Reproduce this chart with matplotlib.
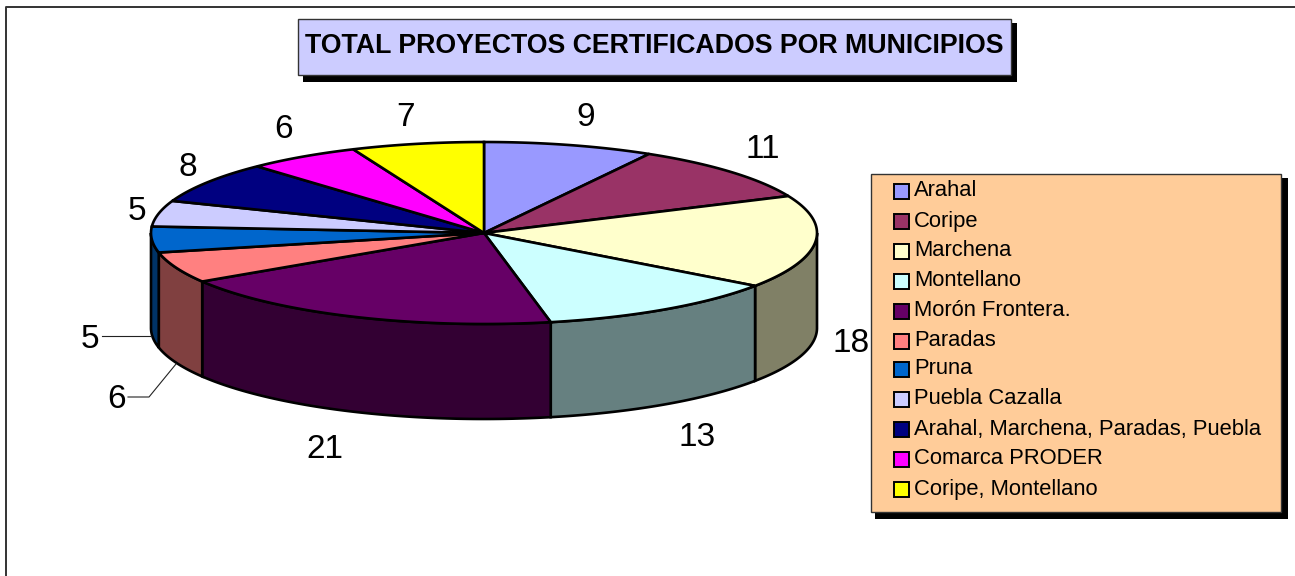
import numpy as np
import matplotlib
matplotlib.use("Agg")
import matplotlib.pyplot as plt
from matplotlib.patches import Polygon, Rectangle

plt.rcParams['font.family'] = ['Liberation Sans', 'DejaVu Sans']

# Chart data
title = 'TOTAL PROYECTOS CERTIFICADOS POR MUNICIPIOS'
municipios = ['Arahal', 'Coripe', 'Marchena', 'Montellano', 'Morón Frontera.', 'Paradas', 'Pruna',
              'Puebla Cazalla', 'Arahal, Marchena, Paradas, Puebla', 'Comarca PRODER', 'Coripe, Montellano']
proyectos = [9, 11, 18, 13, 21, 6, 5, 5, 8, 6, 7]
colores = ['#9999FF', '#993366', '#FFFFCC', '#CCFFFF', '#660066', '#FF8080', '#0066CC',
           '#CCCCFF', '#000080', '#FF00FF', '#FFFF00']
label_pos = [(586, 117), (763, 150), (851, 343), (697, 437), (325, 449), (117, 400), (90, 339),
             (137, 211), (188, 167), (284, 129), (405, 117)]
legend_rows = [191, 221, 250, 280, 310, 341, 369, 399, 429, 458, 489]
marker_rows = [191.5, 221.5, 251, 281, 311, 341, 369.5, 399.5, 429.5, 459, 489]

# Pie geometry in pixels
cx, cy, rx, ry, depth = 484, 233, 333, 91, 95


def rim(a0, a1):
    t = np.radians(np.linspace(a0, a1, 120))
    return cx + rx * np.sin(t), cy - ry * np.cos(t)


fig = plt.figure(figsize=(12.95, 5.76), dpi=100)
ax = fig.add_axes([0, 0, 1, 1])
ax.set_xlim(0, 1295)
ax.set_ylim(576, 0)
ax.axis('off')

# Outer frame, only left and top are visible
ax.plot([6, 6, 1295], [576, 7, 7], color='#333333', lw=1.4, zorder=1)

edges = np.cumsum([0] + proyectos) / sum(proyectos) * 360

# Side walls, only the front half shows
for i, color in enumerate(colores):
    a0, a1 = max(edges[i], 90), min(edges[i + 1], 270)
    if a0 >= a1:
        continue
    x, y = rim(a0, a1)
    pts = np.vstack([np.column_stack([x, y]), np.column_stack([x[::-1], y[::-1] + depth])])
    side = tuple(c * 0.5 for c in matplotlib.colors.to_rgb(color))
    ax.add_patch(Polygon(pts, closed=True, facecolor=side, edgecolor='black', lw=1.9, zorder=2))

# Top of the pie
for i, color in enumerate(colores):
    x, y = rim(edges[i], edges[i + 1])
    pts = np.vstack([[cx, cy], np.column_stack([x, y])])
    ax.add_patch(Polygon(pts, closed=True, facecolor=color, edgecolor='black', lw=1.9, zorder=3))

# Value labels and leader lines
for val, (lx, ly) in zip(proyectos, label_pos):
    ax.text(lx, ly, str(val), fontsize=24, ha='center', va='center', color='black', zorder=4)
ax.plot([102, 151], [336, 336], color='#222222', lw=0.8, zorder=4)
ax.plot([128, 149, 176], [397, 397, 364], color='#222222', lw=0.8, zorder=4)

# Title box
ax.add_patch(Rectangle((303, 23), 714, 59, facecolor='black', edgecolor='none', zorder=5))
ax.add_patch(Rectangle((297.5, 19), 713, 56, facecolor='#CCCCFF', edgecolor='#333333', lw=1, zorder=6))
ax.text(654, 46, title, fontsize=19.3, fontweight='bold', ha='center', va='center', zorder=7)

# Legend box
ax.add_patch(Rectangle((875, 178), 413, 341, facecolor='black', edgecolor='none', zorder=5))
ax.add_patch(Rectangle((871, 174), 410, 338, facecolor='#FFCC99', edgecolor='#333333', lw=1, zorder=6))
for name, color, ty, my in zip(municipios, colores, legend_rows, marker_rows):
    ax.add_patch(Rectangle((893.5, my - 7.5), 15, 15, facecolor=color, edgecolor='black', lw=1.4, zorder=7))
    ax.text(914, ty, name, fontsize=15.8, ha='left', va='center', zorder=7)

fig.savefig('out.png', dpi=100)
